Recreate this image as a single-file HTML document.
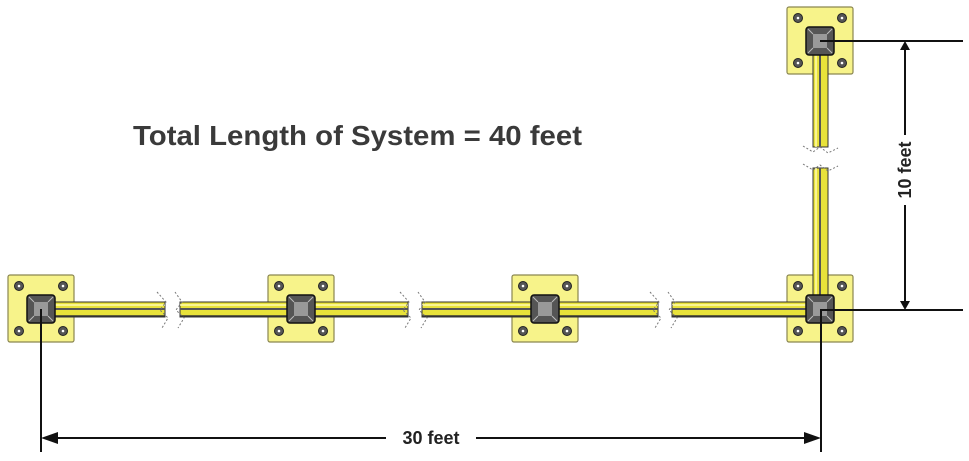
<!DOCTYPE html>
<html><head><style>html,body{margin:0;padding:0;background:#fff;}svg{display:block}</style></head>
<body>
<svg width="969" height="461" viewBox="0 0 969 461" xmlns="http://www.w3.org/2000/svg">
<defs>
<g id="plate">
  <rect x="-33" y="-34" width="66" height="67" rx="2" fill="#f7f38a" stroke="#8a8650" stroke-width="1.2"/>
  <g fill="#555" stroke="#222" stroke-width="1">
    <circle cx="-22" cy="-23" r="4.5"/><circle cx="22" cy="-23" r="4.5"/>
    <circle cx="-22" cy="22" r="4.5"/><circle cx="22" cy="22" r="4.5"/>
  </g>
  <g fill="#fff"><circle cx="-22" cy="-23" r="1.3"/><circle cx="22" cy="-23" r="1.3"/><circle cx="-22" cy="22" r="1.3"/><circle cx="22" cy="22" r="1.3"/></g>
</g>
<g id="box">
  <rect x="-14" y="-14" width="28" height="28" rx="3" fill="#555" stroke="#111" stroke-width="1.5"/>
  <rect x="-7" y="-7" width="14" height="14" fill="#999"/>
  <path d="M-12,-12 L-7,-7 M12,-12 L7,-7 M-12,12 L-7,7 M12,12 L7,7" stroke="#bbb" stroke-width="1"/>
</g>
</defs>

<use href="#plate" x="41" y="309"/>
<use href="#plate" x="301" y="309"/>
<use href="#plate" x="545" y="309"/>
<use href="#plate" x="820" y="309"/>
<use href="#plate" x="820" y="41"/>

<g>
  <rect x="55" y="302" width="110" height="15" fill="#e8e23a" stroke="#333" stroke-width="1"/>
  <rect x="180" y="302" width="228" height="15" fill="#e8e23a" stroke="#333" stroke-width="1"/>
  <rect x="422" y="302" width="236" height="15" fill="#e8e23a" stroke="#333" stroke-width="1"/>
  <rect x="672" y="302" width="140" height="15" fill="#e8e23a" stroke="#333" stroke-width="1"/>
  <path d="M55,309 H165 M180,309 H408 M422,309 H658 M672,309 H812" stroke="#555" stroke-width="2"/>
  <path d="M55,316 H165 M180,316 H408 M422,316 H658 M672,316 H812" stroke="#333" stroke-width="1.5"/>
  <path d="M55,305 H165 M180,305 H408 M422,305 H658 M672,305 H812" stroke="#fffbb0" stroke-width="1.5"/>
</g>
<g stroke="#777" stroke-width="1" stroke-dasharray="2,2" fill="none">
  <path d="M157,292 L166,302 L160,310 L168,318 L162,328"/><path d="M175,292 L182,302 L176,310 L184,318 L178,328"/>
  <path d="M400,292 L409,302 L403,310 L411,318 L405,328"/><path d="M418,292 L425,302 L419,310 L427,318 L421,328"/>
  <path d="M650,292 L659,302 L653,310 L661,318 L655,328"/><path d="M668,292 L675,302 L669,310 L677,318 L671,328"/>
</g>
<g>
  <rect x="813" y="55" width="15" height="92" fill="#e8e23a" stroke="#333" stroke-width="1"/>
  <rect x="813" y="168" width="15" height="128" fill="#e8e23a" stroke="#333" stroke-width="1"/>
  <path d="M820,55 V147 M820,168 V296" stroke="#555" stroke-width="2"/>
  <path d="M816,55 V147 M816,168 V296" stroke="#fffbb0" stroke-width="1.5"/>
</g>
<g stroke="#777" stroke-width="1" stroke-dasharray="2,2" fill="none">
  <path d="M803,146 L813,152 L820,147 L828,153 L838,148"/>
  <path d="M803,164 L813,170 L820,165 L828,171 L838,166"/>
</g>

<use href="#box" x="41" y="309"/>
<use href="#box" x="301" y="309"/>
<use href="#box" x="545" y="309"/>
<use href="#box" x="820" y="309"/>
<use href="#box" x="820" y="41"/>

<g stroke="#111" stroke-width="2" fill="none">
  <path d="M41,309 V452"/>
  <path d="M821,309 V452"/>
  <path d="M45,438 H386 M476,438 H817"/>
  <path d="M820,41 H963"/>
  <path d="M820,310 H963"/>
  <path d="M905,45 V135 M905,205 V306"/>
</g>
<g fill="#111">
  <polygon points="41,438 58,432 58,444"/>
  <polygon points="821,438 804,432 804,444"/>
  <polygon points="905,41 900,50 910,50"/>
  <polygon points="905,310 900,301 910,301"/>
</g>
<text x="431" y="444" text-anchor="middle" font-family="Liberation Sans, sans-serif" font-weight="bold" font-size="18" fill="#222">30 feet</text>
<text transform="translate(911,170) rotate(-90)" text-anchor="middle" font-family="Liberation Sans, sans-serif" font-weight="bold" font-size="18" fill="#222">10 feet</text>
<text x="133" y="145" textLength="449" lengthAdjust="spacingAndGlyphs" font-family="Liberation Sans, sans-serif" font-weight="bold" font-size="28" fill="#3a3a3a">Total Length of System = 40 feet</text>
</svg>
</body></html>
